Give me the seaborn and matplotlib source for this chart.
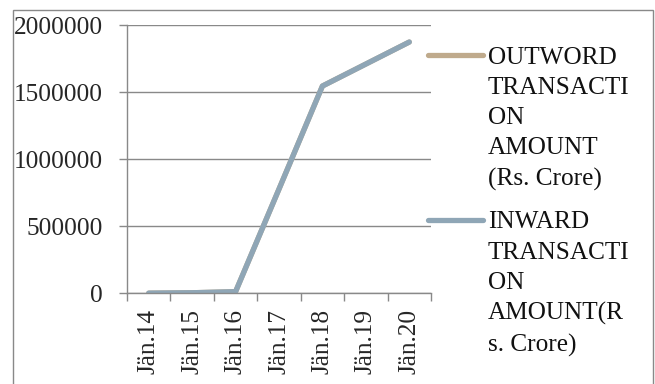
import matplotlib
matplotlib.use("Agg")
import matplotlib.pyplot as plt
from matplotlib.lines import Line2D
from matplotlib.patches import Rectangle
import pandas as pd
import seaborn as sns

# Monthly snapshots (January of each year)
periods = ["Jän.14", "Jän.15", "Jän.16", "Jän.17", "Jän.18", "Jän.19", "Jän.20"]

# Transaction amounts in Rs. Crore
outward_amount = [1000, 4000, 12000, 777000, 1545000, 1709000, 1873000]
inward_amount = [1000, 4000, 12000, 777000, 1545000, 1709000, 1873000]

outward_label = "OUTWORD\nTRANSACTI\nON\nAMOUNT\n(Rs. Crore)"
inward_label = "INWARD\nTRANSACTI\nON\nAMOUNT(R\ns. Crore)"

y_ticks = [0, 500000, 1000000, 1500000, 2000000]

series_colors = {outward_label: "#BFAA8C", inward_label: "#8FA6B6"}

df = pd.concat([
    pd.DataFrame({"period": periods, "series": outward_label, "amount": outward_amount}),
    pd.DataFrame({"period": periods, "series": inward_label, "amount": inward_amount}),
])

sns.set_style("white")
plt.rcParams["font.family"] = ["Liberation Serif", "DejaVu Serif"]

W, H = 655, 384
fig = plt.figure(figsize=(W / 100, H / 100), dpi=100)
ax = fig.add_axes([127 / W, 1 - 293.3 / H, (431 - 127) / W, (293.3 - 25) / H])

grid_color = "#898989"
fs = 18.2

sns.lineplot(data=df, x="period", y="amount", hue="series",
             hue_order=[outward_label, inward_label], palette=series_colors,
             sort=False, legend=False, linewidth=3.8, ax=ax,
             solid_capstyle="round")

ax.set_xlim(-0.5, len(periods) - 0.5)
ax.set_ylim(0, 2000000)
ax.set_yticks(y_ticks)
ax.set_yticklabels([str(v) for v in y_ticks])
ax.set_xticks(range(len(periods)))
ax.set_xticklabels(periods, rotation=90)
ax.set_xticks([i - 0.5 for i in range(len(periods) + 1)], minor=True)
ax.set_xlabel("")
ax.set_ylabel("")

ax.yaxis.grid(True, color=grid_color, linewidth=1)
ax.xaxis.grid(False)
ax.tick_params(axis="y", length=5.8, width=1, color=grid_color, direction="out",
               pad=11.5, labelsize=fs, left=True)
ax.tick_params(axis="x", which="major", length=0, pad=11.5, labelsize=fs)
ax.tick_params(axis="x", which="minor", length=5.8, width=1, color=grid_color,
               direction="out", bottom=True)

for side in ["top", "right"]:
    ax.spines[side].set_visible(False)
for side in ["left", "bottom"]:
    ax.spines[side].set_color(grid_color)
    ax.spines[side].set_linewidth(1)
ax.set_axisbelow(True)

# Legend: short line handle aligned with the first line of each wrapped label
for label, y_px in [(outward_label, 55), (inward_label, 220)]:
    yf = 1 - y_px / H
    fig.add_artist(Line2D([428 / W, 483 / W], [yf, yf], color=series_colors[label],
                          linewidth=3.8, solid_capstyle="round"))
    fig.text(488 / W, 1 - (y_px - 8.5) / H, label, fontsize=fs, va="top", ha="left",
             linespacing=1.48, color="#111111")

# Chart frame
fig.add_artist(Rectangle((13 / W, -0.01), (653 - 13) / W, 1 - 10 / H + 0.01,
                         transform=fig.transFigure, fill=False,
                         edgecolor=grid_color, linewidth=1))

fig.savefig("out.png", dpi=100)
